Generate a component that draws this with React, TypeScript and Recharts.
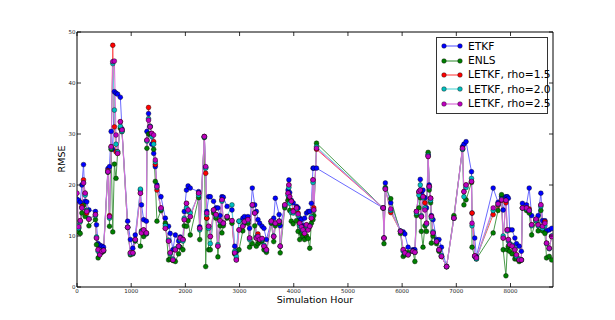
import React from 'react';
import { LineChart, Line, XAxis, YAxis, Legend } from 'recharts';

const hours = [
  0,30,60,90,120,150,180,220,340,360,
  390,420,460,490,570,600,630,660,690,720,
  750,800,830,935,985,1030,1075,1170,1190,1230,
  1280,1290,1320,1350,1380,1415,1445,1475,1550,1630,
  1690,1720,1770,1815,1875,1905,1955,1980,2020,2050,
  2090,2245,2265,2350,2375,2395,2430,2460,2520,2565,
  2600,2640,2675,2700,2770,2860,2910,2940,2990,3060,
  3090,3155,3185,3235,3280,3310,3340,3370,3415,3450,
  3495,3585,3630,3660,3730,3750,3835,3895,3910,3925,
  3955,3990,4050,4080,4110,4140,4170,4200,4235,4265,
  4295,4325,4355,4370,4420,5650,5665,5690,5790,5970,
  6020,6050,6110,6200,6235,6265,6310,6335,6355,6385,
  6420,6450,6480,6500,6525,6540,6570,6635,6680,6725,
  6820,6955,7115,7140,7180,7280,7290,7340,7370,7680,
  7770,7835,7865,7915,7940,7960,7985,8030,8080,8110,
  8160,8200,8220,8295,8345,8390,8470,8510,8560,8590,
  8635,8665,8715,8760,
];

const etkf = [
  17.2,17.0,16.6,20.0,24.0,16.8,16.7,15.1,14.8,12.2,
  8.5,8.2,8.0,7.8,23.2,23.6,30.5,27.0,38.3,38.0,
  37.8,37.2,31.0,12.9,9.3,7.6,10.2,19.0,16.1,13.2,
  12.9,30.5,34.0,31.5,28.0,26.2,23.6,20.0,17.7,13.5,
  11.9,10.5,7.3,10.2,9.0,9.8,9.3,14.8,19.0,19.8,
  19.4,18.7,11.8,29.5,23.5,14.8,17.7,17.7,16.8,15.5,
  15.5,14.0,17.7,17.6,15.8,15.1,8.0,7.0,12.9,13.5,
  13.8,13.8,11.5,19.4,16.1,14.8,13.2,12.5,11.9,11.5,
  9.3,12.9,13.5,17.4,14.2,12.0,15.8,19.0,21.0,18.5,
  17.0,16.5,15.8,15.5,13.5,13.2,12.0,13.5,14.5,14.8,
  14.8,16.4,23.3,23.3,23.3,15.5,9.6,20.4,16.5,11.0,
  10.8,10.4,7.8,7.3,7.3,14.8,18.7,21.1,18.5,19.0,
  17.5,15.5,26.0,20.0,17.4,14.0,13.2,9.3,9.3,7.8,
  4.0,13.5,27.5,28.0,28.5,22.6,14.5,9.6,6.0,19.4,
  16.6,17.7,15.1,17.7,17.7,17.4,11.2,11.2,9.6,8.5,
  8.0,7.0,16.4,16.1,19.4,14.0,13.3,14.0,18.4,13.0,
  13.0,11.0,11.2,11.5,
];

const enls = [
  11.0,10.8,10.5,14.5,16.0,13.8,15.0,12.0,13.2,8.3,
  5.7,6.5,6.8,7.0,22.5,11.9,27.0,10.8,24.1,21.3,
  26.5,31.1,30.5,11.7,6.3,6.5,9.0,8.0,11.0,9.9,
  10.4,27.2,30.0,30.0,29.8,27.0,20.7,12.9,15.0,12.5,
  5.3,5.5,5.2,5.0,6.5,7.8,7.3,12.0,11.9,13.0,
  10.2,17.5,9.3,29.3,4.0,13.5,7.3,7.3,14.5,13.5,
  5.9,12.0,10.6,12.0,13.5,12.5,6.5,5.3,7.3,11.0,
  12.5,12.5,7.8,8.5,12.0,8.0,8.5,8.8,9.0,7.3,
  6.8,12.5,8.9,12.0,12.5,6.7,15.5,17.0,17.5,15.0,
  12.9,12.4,13.0,10.9,9.3,10.5,9.9,9.3,10.0,9.5,
  7.6,12.5,13.2,14.0,28.2,15.5,8.5,19.5,17.3,10.5,
  6.0,6.3,6.8,7.0,5.0,14.0,15.5,17.5,10.9,7.8,
  12.0,10.9,26.4,19.0,16.5,8.6,10.0,8.5,7.0,6.0,
  4.0,14.0,27.0,16.1,17.1,20.5,7.8,6.0,5.5,10.6,
  15.0,18.1,7.3,2.2,7.3,8.0,7.0,6.5,5.5,5.5,
  5.0,5.3,15.5,15.0,14.5,10.2,13.0,11.0,15.0,11.0,
  10.5,5.7,6.0,5.3,
];

const letkf15 = [
  11.8,11.6,13.0,15.8,21.0,18.4,14.5,13.3,14.2,9.6,
  7.3,6.3,7.0,7.2,22.8,14.0,27.5,47.4,31.4,26.5,
  26.2,32.4,30.8,11.7,6.7,6.7,9.3,18.4,10.6,11.2,
  10.6,28.8,35.2,31.4,30.1,28.5,24.0,19.0,15.5,11.5,
  9.0,6.7,5.3,7.3,8.0,9.6,9.3,13.2,16.4,15.1,
  13.8,18.4,11.5,29.5,22.3,13.5,11.9,9.9,15.1,14.2,
  8.0,13.0,17.1,12.5,13.8,13.0,6.7,5.5,11.2,11.9,
  12.8,13.2,9.6,16.1,14.5,9.6,10.4,9.3,9.5,8.0,
  7.3,12.9,9.9,12.5,12.9,8.0,16.1,18.4,20.0,17.7,
  16.8,15.0,15.5,14.5,12.5,11.8,11.2,10.5,12.2,11.2,
  11.9,13.5,21.0,15.5,27.0,15.5,9.6,19.2,14.6,10.9,
  7.3,6.7,6.3,7.0,6.8,14.8,18.5,19.0,13.8,17.7,
  16.5,12.5,25.6,19.7,17.4,13.8,10.6,8.9,7.3,6.0,
  4.0,13.5,27.2,18.7,20.0,20.7,14.5,6.1,5.7,14.2,
  16.0,17.0,9.6,16.5,11.2,9.3,8.3,8.0,7.3,6.3,
  5.3,5.3,15.5,15.5,15.3,12.2,13.2,12.2,16.1,11.9,
  12.8,8.6,7.6,9.9,
];

const letkf20 = [
  12.0,11.5,12.8,15.5,20.4,18.0,15.0,13.4,14.0,9.8,
  7.0,6.5,7.0,7.2,22.6,13.5,27.3,43.8,34.7,28.0,
  26.5,31.5,30.5,11.7,6.5,6.6,9.2,19.2,10.8,11.0,
  10.5,28.6,33.0,31.5,29.5,28.0,24.5,19.5,15.3,12.0,
  9.2,6.5,5.5,7.5,8.0,9.3,9.0,13.5,15.5,14.8,
  14.5,18.0,11.2,29.4,23.3,14.2,11.5,8.5,15.0,14.0,
  8.3,12.8,16.8,12.5,13.8,16.1,7.0,6.0,12.9,12.0,
  12.8,13.0,9.3,16.0,14.5,9.8,9.9,9.5,9.3,8.2,
  7.2,12.8,10.0,12.5,12.9,8.0,16.0,18.0,19.5,16.4,
  14.6,14.5,15.3,14.0,12.0,11.5,11.0,10.8,12.0,11.5,
  12.0,13.8,20.5,15.0,27.5,15.5,9.6,19.3,15.0,10.9,
  7.0,6.6,6.4,7.0,6.8,14.5,18.0,20.0,14.0,17.5,
  15.5,12.3,25.8,19.5,17.0,13.5,10.8,9.0,7.3,6.2,
  4.0,13.5,27.0,17.7,19.5,21.3,12.0,6.0,5.5,15.0,
  16.2,17.2,10.0,17.0,11.0,9.0,8.5,8.2,7.5,6.0,
  5.5,5.3,15.5,15.3,15.0,12.0,13.0,12.0,15.8,11.5,
  12.0,8.5,7.5,10.0,
];

const letkf25 = [
  18.4,11.8,13.0,15.5,20.4,18.4,14.8,13.3,14.2,9.6,
  7.3,6.3,7.0,7.2,22.6,13.8,27.5,44.2,44.3,29.8,
  26.2,32.4,30.8,11.7,6.7,6.7,9.3,18.4,10.6,11.2,
  10.6,28.8,32.7,31.4,30.1,29.8,24.9,19.7,15.5,11.5,
  9.0,6.7,5.3,7.3,8.0,9.6,9.3,13.2,16.4,15.1,
  13.8,18.4,11.5,29.5,23.6,14.5,11.9,9.9,15.1,14.2,
  8.0,13.0,17.1,12.5,13.8,13.0,6.7,5.3,11.2,11.9,
  12.8,13.2,9.6,16.1,14.5,9.6,9.9,9.3,9.5,8.0,
  7.3,12.9,9.9,12.5,12.9,8.0,16.1,18.4,20.0,17.7,
  16.8,14.8,15.5,14.3,12.5,11.8,11.2,10.5,12.2,11.2,
  11.9,13.5,21.0,15.1,27.2,15.5,9.6,19.2,15.3,10.9,
  7.3,6.7,6.3,7.0,6.8,14.8,18.7,19.0,13.8,17.7,
  15.1,12.5,25.6,19.7,17.4,13.8,10.6,8.9,7.3,6.0,
  4.0,13.5,27.2,18.7,20.0,20.7,12.5,6.1,5.7,15.5,
  16.3,17.1,9.6,17.0,11.2,9.3,8.3,8.0,7.3,6.3,
  5.3,5.3,15.5,15.5,15.0,12.2,13.3,12.2,16.1,11.9,
  12.5,8.6,7.6,9.9,
];

const seriesNames = ['ETKF', 'ENLS', 'LETKF, rho=1.5', 'LETKF, rho=2.0', 'LETKF, rho=2.5'];
const seriesKeys = ['etkf', 'enls', 'letkf15', 'letkf20', 'letkf25'];
const markerColors = ['#0000ff', '#007f00', '#ff0000', '#00bfbf', '#bf00bf'];
const lineColors = ['#6b6bff', '#4a9a4a', '#ff5555', '#60d8d8', '#d86cd8'];

const xTicks = [0, 1000, 2000, 3000, 4000, 5000, 6000, 7000, 8000];
const yTicks = [0, 10, 20, 30, 40, 50];

const data = hours.map((h, i) => ({
  hour: h,
  etkf: etkf[i],
  enls: enls[i],
  letkf15: letkf15[i],
  letkf20: letkf20[i],
  letkf25: letkf25[i],
}));

const FONT = 'DejaVu Sans, sans-serif';
const TICK_COLOR = '#222';

const BottomTick = (props: any) => {
  const { x, y, payload } = props;
  return (
    <g>
      <line x1={x} y1={y} x2={x} y2={y - 4} stroke="#000" strokeWidth={0.8} />
      <text x={x} y={y + 6.3} textAnchor="middle" fontSize={5.5} fontFamily={FONT} fill={TICK_COLOR}>
        {payload.value}
      </text>
    </g>
  );
};

const TopTick = (props: any) => {
  const { x, y } = props;
  return <line x1={x} y1={y} x2={x} y2={y + 4} stroke="#000" strokeWidth={0.8} />;
};

const LeftTick = (props: any) => {
  const { x, y, payload } = props;
  return (
    <g>
      <line x1={x} y1={y} x2={x + 4} y2={y} stroke="#000" strokeWidth={0.8} />
      <text x={x - 1.5} y={y + 2} textAnchor="end" fontSize={5.5} fontFamily={FONT} fill={TICK_COLOR}>
        {payload.value}
      </text>
    </g>
  );
};

const RightTick = (props: any) => {
  const { x, y } = props;
  return <line x1={x} y1={y} x2={x - 4} y2={y} stroke="#000" strokeWidth={0.8} />;
};

const LegendBox = () => (
  <div
    style={{
      border: '1px solid #333',
      background: '#fff',
      width: 112,
      height: 77,
      boxSizing: 'border-box',
      paddingTop: 1,
    }}
  >
    {seriesNames.map((name, i) => (
      <div key={name} style={{ display: 'flex', alignItems: 'center', height: 14.4 }}>
        <svg width={24} height={10} style={{ marginLeft: 4, flex: 'none' }}>
          <line x1={3} y1={5} x2={19} y2={5} stroke={lineColors[i]} strokeWidth={1.2} />
          <circle cx={3} cy={5} r={2.3} fill={markerColors[i]} stroke="#000" strokeWidth={0.4} />
          <circle cx={19} cy={5} r={2.3} fill={markerColors[i]} stroke="#000" strokeWidth={0.4} />
        </svg>
        <span style={{ fontFamily: FONT, fontSize: 10.7, color: '#000', marginLeft: 3, whiteSpace: 'nowrap' }}>
          {name}
        </span>
      </div>
    ))}
  </div>
);

export default function App() {
  return (
    <div style={{ position: 'absolute', left: 0, top: 0, width: 615, height: 320, background: '#fff' }}>
      <LineChart
        width={615}
        height={320}
        data={data}
        margin={{ top: 31, right: 61, bottom: 32, left: 76 }}
      >
        <XAxis
          xAxisId="bottom"
          dataKey="hour"
          type="number"
          domain={[0, 8784]}
          ticks={xTicks}
          allowDataOverflow
          height={1}
          tickSize={0}
          tickMargin={0}
          tickLine={false}
          tick={<BottomTick />}
          axisLine={{ stroke: '#000', strokeWidth: 1 }}
          interval={0}
        />
        <XAxis
          xAxisId="top"
          orientation="top"
          dataKey="hour"
          type="number"
          domain={[0, 8784]}
          ticks={xTicks}
          allowDataOverflow
          height={1}
          tickSize={0}
          tickMargin={0}
          tickLine={false}
          tick={<TopTick />}
          axisLine={{ stroke: '#000', strokeWidth: 1 }}
          interval={0}
        />
        <YAxis
          yAxisId="left"
          type="number"
          domain={[0, 50]}
          ticks={yTicks}
          allowDataOverflow
          width={1}
          tickSize={0}
          tickMargin={0}
          tickLine={false}
          tick={<LeftTick />}
          axisLine={{ stroke: '#000', strokeWidth: 1 }}
          interval={0}
        />
        <YAxis
          yAxisId="right"
          orientation="right"
          type="number"
          domain={[0, 50]}
          ticks={yTicks}
          allowDataOverflow
          width={1}
          tickSize={0}
          tickMargin={0}
          tickLine={false}
          tick={<RightTick />}
          axisLine={{ stroke: '#000', strokeWidth: 1 }}
          interval={0}
        />
        {seriesKeys.map((k, i) => (
          <Line
            key={k}
            xAxisId="bottom"
            yAxisId="left"
            type="linear"
            dataKey={k}
            name={seriesNames[i]}
            stroke={lineColors[i]}
            strokeWidth={1}
            dot={{ r: 2.4, fill: markerColors[i], stroke: '#000', strokeWidth: 0.4, fillOpacity: 1 }}
            activeDot={false}
            isAnimationActive={false}
          />
        ))}
        <Legend
          layout="vertical"
          align="center"
          verticalAlign="middle"
          content={() => <LegendBox />}
          wrapperStyle={{ position: 'absolute', left: 436, top: 37, width: 112, height: 77 }}
        />
      </LineChart>
      <div
        style={{
          position: 'absolute',
          left: 215,
          width: 200,
          top: 295,
          lineHeight: '10px',
          textAlign: 'center',
          fontFamily: FONT,
          fontSize: 9.5,
          color: '#000',
        }}
      >
        Simulation Hour
      </div>
      <div
        style={{
          position: 'absolute',
          left: 61,
          top: 159,
          transform: 'translate(-50%, -50%) rotate(-90deg)',
          fontFamily: FONT,
          fontSize: 9.5,
          color: '#000',
          whiteSpace: 'nowrap',
        }}
      >
        RMSE
      </div>
    </div>
  );
}
